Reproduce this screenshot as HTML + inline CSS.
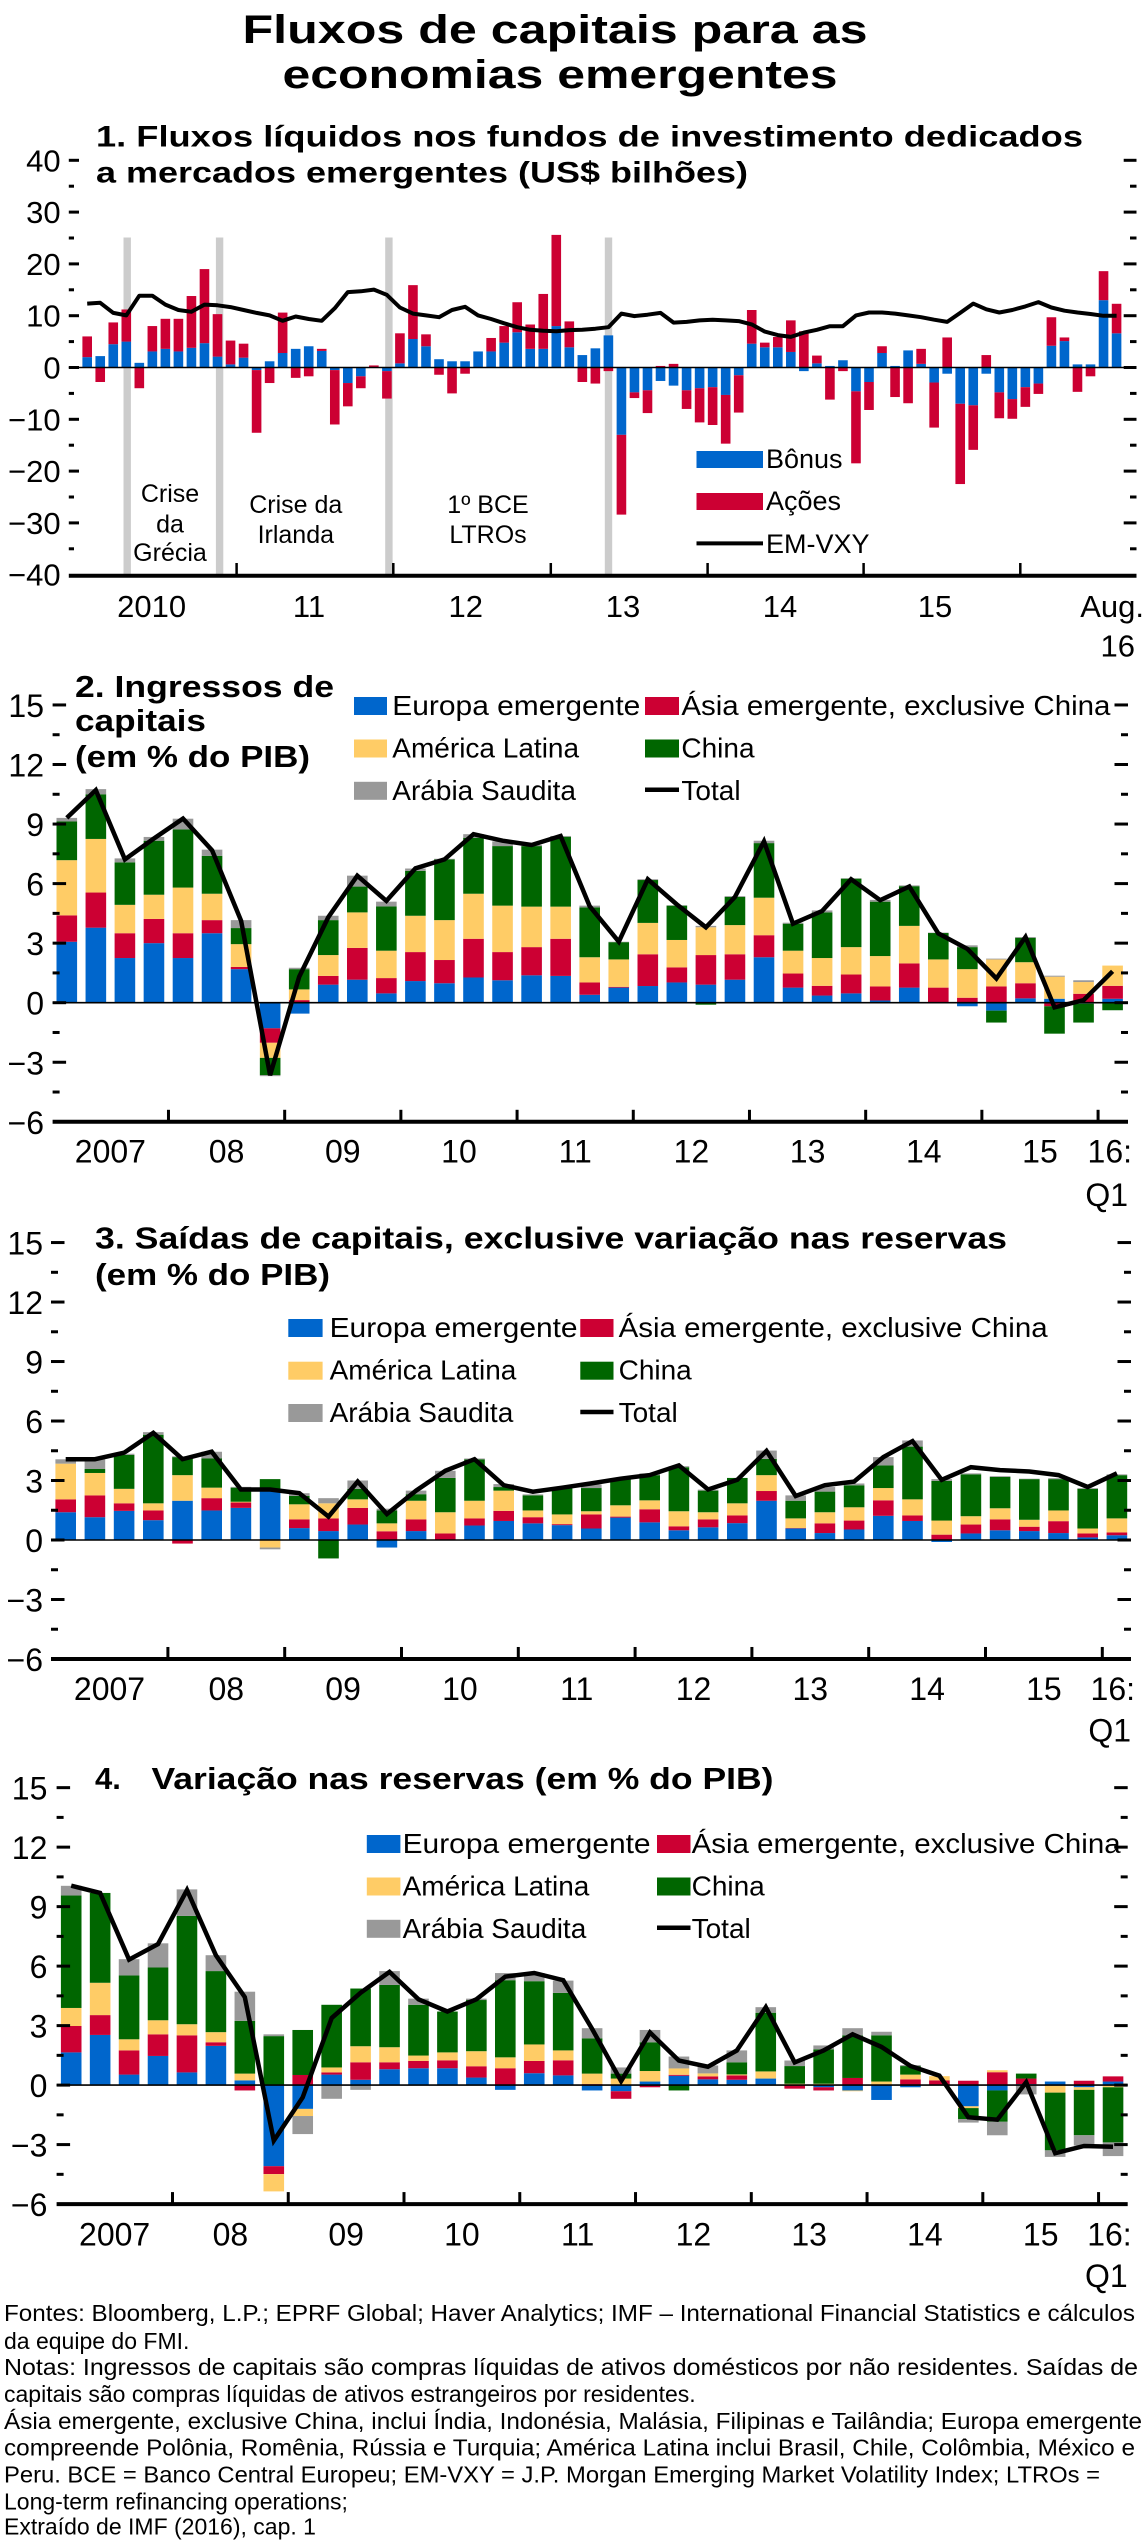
<!DOCTYPE html>
<html><head><meta charset="utf-8">
<style>
html,body{margin:0;padding:0;background:#fff;}
svg{display:block;font-family:"Liberation Sans",Arial,sans-serif;}
</style></head>
<body>
<svg id="s" width="1146" height="2544" viewBox="0 0 1146 2544" xmlns="http://www.w3.org/2000/svg">
<rect width="1146" height="2544" fill="#fff"/>
<text x="555" y="43" font-size="40" font-weight="bold" text-anchor="middle" textLength="625" lengthAdjust="spacingAndGlyphs">Fluxos de capitais para as</text>
<text x="560" y="88" font-size="40" font-weight="bold" text-anchor="middle" textLength="555" lengthAdjust="spacingAndGlyphs">economias emergentes</text>

<text x="96" y="146.7" font-size="30" font-weight="bold" textLength="987" lengthAdjust="spacingAndGlyphs">1. Fluxos líquidos nos fundos de investimento dedicados</text>
<text x="96" y="182.6" font-size="30" font-weight="bold" textLength="652" lengthAdjust="spacingAndGlyphs">a mercados emergentes (US$ bilhões)</text>

<text x="75" y="697" font-size="31" font-weight="bold" textLength="259" lengthAdjust="spacingAndGlyphs">2. Ingressos de</text>
<text x="75" y="731" font-size="31" font-weight="bold" textLength="131" lengthAdjust="spacingAndGlyphs">capitais</text>
<text x="75" y="767" font-size="31" font-weight="bold" textLength="235" lengthAdjust="spacingAndGlyphs">(em % do PIB)</text>

<text x="95" y="1248.7" font-size="31" font-weight="bold" textLength="912" lengthAdjust="spacingAndGlyphs">3. Saídas de capitais, exclusive variação nas reservas</text>
<text x="95" y="1284.8" font-size="31" font-weight="bold" textLength="235" lengthAdjust="spacingAndGlyphs">(em % do PIB)</text>

<text x="95" y="1789" font-size="31" font-weight="bold">4.</text>
<text x="151.5" y="1789" font-size="31" font-weight="bold" textLength="622" lengthAdjust="spacingAndGlyphs">Variação nas reservas (em % do PIB)</text>

<g font-size="23">
<text x="4" y="2321" textLength="1131" lengthAdjust="spacingAndGlyphs">Fontes: Bloomberg, L.P.; EPRF Global; Haver Analytics; IMF – International Financial Statistics e cálculos</text>
<text x="4" y="2349">da equipe do FMI.</text>
<text x="4" y="2375" textLength="1134" lengthAdjust="spacingAndGlyphs">Notas: Ingressos de capitais são compras líquidas de ativos domésticos por não residentes. Saídas de</text>
<text x="4" y="2402">capitais são compras líquidas de ativos estrangeiros por residentes.</text>
<text x="4" y="2429" textLength="1138" lengthAdjust="spacingAndGlyphs">Ásia emergente, exclusive China, inclui Índia, Indonésia, Malásia, Filipinas e Tailândia; Europa emergente</text>
<text x="4" y="2455.5" textLength="1131" lengthAdjust="spacingAndGlyphs">compreende Polônia, Romênia, Rússia e Turquia; América Latina inclui Brasil, Chile, Colômbia, México e</text>
<text x="4" y="2482.6" textLength="1096" lengthAdjust="spacingAndGlyphs">Peru. BCE = Banco Central Europeu; EM-VXY = J.P. Morgan Emerging Market Volatility Index; LTROs =</text>
<text x="4" y="2509.6">Long-term refinancing operations;</text>
<text x="4" y="2534.6">Extraído de IMF (2016), cap. 1</text>
</g>
<g id="g"></g>
</svg>
<script>
(function(){
var NS="http://www.w3.org/2000/svg",G=document.getElementById("g");
function el(t,a,txt){var e=document.createElementNS(NS,t);for(var k in a)e.setAttribute(k,a[k]);if(txt!=null)e.textContent=txt;G.appendChild(e);return e;}
function R(x,y,w,h,f){if(h<0){y+=h;h=-h;}if(h<0.01)return;el("rect",{x:x,y:y,width:w,height:h,fill:f});}
function L(x1,y1,x2,y2,w){el("line",{x1:x1,y1:y1,x2:x2,y2:y2,stroke:"#000","stroke-width":w});}
function T(x,y,s,sz,anc,extra){var a={x:x,y:y,"font-size":sz,"text-anchor":anc||"start"};if(extra)for(var k in extra)a[k]=extra[k];el("text",a,s);}
var C=["#0066cc","#cc0033","#ffcc66","#006600","#999999"];
var M="\u2212";

var b=[2,2.2,4.5,5,0.9,3.1,3.6,3.1,3.8,4.7,2.1,0.6,1.9,-0.5,1.2,2.8,3.6,4.1,3.2,-0.5,-3,-1.7,0,-0.7,0.8,5.5,4.1,1.6,1.2,1.2,3.1,3.1,4.8,6.8,3.6,3.6,8,3.9,2.4,3.7,6.2,-13,-4.8,-4.4,-2.6,-3.5,-4.4,-4,-3.8,-5.3,-1.5,4.6,3.9,3.9,3,-0.7,0.8,0.3,1.4,-4.6,-2.8,2.8,0.3,3.3,0.7,-2.9,-1.2,-7,-7.3,-1.2,-4.8,-6.1,-3.8,-3.1,4.2,5.1,0.6,0.6,13,6.6];
var e=[4,-2.8,4.2,6.2,-4,4.9,5.8,6.3,10,14.3,8.2,4.6,2.7,-12.1,-3,7.8,-2,-1.7,0.4,-10.5,-4.5,-2.3,0.4,-5.3,5.8,10.4,2.3,-1.4,-5,-1.2,0,2.6,3.2,5.8,4.7,10.6,17.6,5,-2.8,-3.1,-0.7,-15.4,-1.1,-4.4,0.3,0.7,-3.6,-6.6,-7.3,-9.4,-7.2,6.5,0.9,2,6.1,7,1.5,-6.2,-0.7,-13.9,-5.4,1.3,-5.7,-6.9,2.9,-8.7,5.8,-15.5,-8.6,2.4,-5,-3.8,-3.8,-2,5.5,0.7,-4.7,-1.7,5.6,5.7];
var vx=[567,565,593,600,545,545,570,585,590,570,572,577,585,593,600,615,603,610,615,580,535,533,528,543,578,595,600,605,585,576,600,610,622,633,640,643,644,641,640,637,633,595,602,598,593,620,618,614,612,614,616,625,645,655,660,648,640,630,630,600,592,592,595,600,605,612,618,593,567,583,592,585,575,563,578,587,592,596,601,601];
var z1=367.5,u1=5.18,x0=87.2,st=13.03,bw=9.6;
[127.2,219.6,388.9,608.5].forEach(function(x){R(x-3.7,237.5,7.4,338,"#cccccc");});
for(var i=0;i<80;i++){
  var x=x0+i*st-bw/2,pos=0,neg=0,vals=[b[i],e[i]];
  for(var k=0;k<2;k++){var v=vals[k];if(v>=0){R(x,z1-(pos+v)*u1,bw,v*u1,C[k]);pos+=v;}else{R(x,z1-neg*u1,bw,-v*u1,C[k]);neg+=v;}}
}
L(68.8,z1,1136,z1,1.6);
L(68.8,575.7,1136.5,575.7,4);
for(var v=-40;v<=40;v+=5){var y=z1-v*u1;var maj=(v%10==0);
  if(v>-40){L(68.8,y,maj?79:74,y,3);L(maj?1123.7:1130,y,1136.5,y,3);}
  if(maj)T(60.6,y+11,(v<0?M:"")+Math.abs(v),31,"end");}
[236.6,393.3,550.8,707.6,863.6,1020.3].forEach(function(x){L(x,563,x,575.7,2.5);});
var pts=vx.map(function(zy,i){return (x0+i*st).toFixed(1)+","+(100+zy*0.359).toFixed(1);}).join(" ");
el("polyline",{points:pts,fill:"none",stroke:"#000","stroke-width":4,"stroke-linejoin":"round"});
[["2010",151.6],["11",309],["12",465.8],["13",623],["14",780],["15",935]].forEach(function(a){T(a[1],617,a[0],31,"middle");});
T(1144,617,"Aug.",31,"end");T(1135,656.5,"16",31,"end");
T(170,502,"Crise",25,"middle");T(170,532.6,"da",25,"middle");T(170,561,"Grécia",25,"middle");
T(295.8,513,"Crise da",25,"middle");T(295.8,543,"Irlanda",25,"middle");
T(488,513,"1º BCE",25,"middle");T(488,543,"LTROs",25,"middle");
R(696.5,451,66.5,17,C[0]);R(696.5,493,66.5,17,C[1]);L(696.5,543.4,763,543.4,4);
T(766,468,"Bônus",27);T(766,510,"Ações",27);T(766,553,"EM-VXY",27);

function chart(c){
  var z=c.zero,u=c.unit;
  for(var i=0;i<c.data.length;i++){
    var x=c.bx+i*c.st-c.bw/2,pos=0,neg=0,d=c.data[i];
    for(var k=0;k<5;k++){var v=d[k];if(v>=0){R(x,z-(pos+v)*u,c.bw,v*u,C[k]);pos+=v;}else{R(x,z-neg*u,c.bw,-v*u,C[k]);neg+=v;}}
  }
  L(c.ax0,z,c.ax1,z,1.6);
  L(c.ax0,z+6*u,c.ax1,z+6*u,4);
  for(var v=-6;v<=15;v+=1.5){var y=z-v*u;var maj=(v%3==0);
    if(v>-6){L(c.ax0,y,c.ax0+(maj?13.5:7),y,3);L(c.ax1-(maj?13.5:7),y,c.ax1,y,3);}
    if(maj)T(c.lx,y+12,(v<0?M:"")+Math.abs(v),32,"end");}
  for(var k2=0;k2<9;k2++){var x=c.bx+(3.5+4*k2)*c.st;L(x,z+6*u-12,x,z+6*u,3);}
  var yrs=["2007","08","09","10","11","12","13","14","15"];
  for(var k3=0;k3<9;k3++)T(c.bx+(1.5+4*k3)*c.st,c.yb,yrs[k3],32,"middle");
  T(c.ax1+4,c.yb,"16:",32,"end");T(c.ax1,c.qb,"Q1",32,"end");
  var pts=c.line.map(function(zy,i){return (c.bx+i*c.st).toFixed(1)+","+(z-(c.lz-zy)/55*u).toFixed(1);}).join(" ");
  el("polyline",{points:pts,fill:"none",stroke:"#000","stroke-width":4.5,"stroke-linejoin":"miter"});
  var g=c.leg;
  var names=[["Europa emergente",0],["América Latina",2],["Arábia Saudita",4]];
  for(var r=0;r<3;r++){R(g.lx0,g.rows[r],g.lx1-g.lx0,18,C[names[r][1]]);
    var ex=r==0?{textLength:248,lengthAdjust:"spacingAndGlyphs"}:null;
    T(g.lt,g.rows[r]+18,names[r][0],28,"start",ex);}
  R(g.rx0,g.rows[0],g.rx1-g.rx0,18,C[1]);T(g.rt,g.rows[0]+18,"Ásia emergente, exclusive China",28,"start",{textLength:429,lengthAdjust:"spacingAndGlyphs"});
  R(g.rx0,g.rows[1],g.rx1-g.rx0,18,C[3]);T(g.rt,g.rows[1]+18,"China",28);
  L(g.rx0,g.rows[2]+8,g.rx1,g.rows[2]+8,4.5);T(g.rt,g.rows[2]+18,"Total",28);
}

chart({zero:1002.7,unit:19.85,bx:66.8,st:29.05,bw:20.6,ax0:52.6,ax1:1128,lx:44,yb:1162.6,qb:1206,lz:977,
 leg:{lx0:354,lx1:387,lt:392.3,rx0:645,rx1:679,rt:681.4,rows:[697,739.5,781.8]},
 data:[[3.07,1.33,2.78,1.95,0.18],[3.78,1.77,2.7,2.25,0.26],[2.25,1.25,1.43,2.14,0.2],[3.0,1.22,1.22,2.72,0.19],[2.25,1.25,2.3,2.93,0.54],[3.5,0.66,1.33,1.91,0.31],[1.69,0.11,1.15,0.81,0.4],[-1.29,-0.73,-0.76,-0.87,-0.05],[-0.55,0.13,0.54,1.02,0.07],[0.91,0.44,1.05,1.76,0.22],[1.16,1.6,1.79,1.3,0.55],[0.47,0.77,1.38,2.23,0.24],[1.09,1.46,1.83,2.26,0.12],[0.98,1.17,2.01,3.06,0.03],[1.27,1.95,2.27,2.82,0.18],[1.13,1.42,2.34,3.0,0.24],[1.38,1.42,2.04,3.05,0.06],[1.35,1.87,1.62,3.52,0.04],[0.4,0.62,1.27,2.51,0.09],[0.76,0.04,1.38,0.87,0.02],[0.84,1.6,1.58,2.16,0.04],[1.02,0.76,1.38,1.73,0.02],[0.91,1.49,1.4,-0.1,0.07],[1.16,1.28,1.47,1.42,0.04],[2.29,1.11,1.89,2.75,0.12],[0.76,0.71,1.15,1.36,0.05],[0.36,0.49,1.4,2.3,0.1],[0.47,0.95,1.38,3.45,0.02],[0.11,0.71,1.53,2.74,0.09],[0.76,1.22,1.89,2.0,0.04],[0,0.76,1.42,1.33,0.02],[-0.18,0.25,1.44,1.11,0.09],[-0.4,0.82,1.36,-0.6,0.04],[0.22,0.76,1.06,1.23,0.04],[0.2,-0.18,1.11,-1.38,0.05],[-0.05,0.45,0.59,-0.95,0.09],[0.2,0.65,1.02,-0.38,0]],
 line:[465,388,580,522,467,555,750,1178,905,740,625,695,605,580,510,528,540,515,710,808,635,705,768,684,530,758,723,635,693,655,785,828,910,795,990,970,890]});

chart({zero:1540,unit:19.83,bx:65.7,st:29.2,bw:20.6,ax0:51,ax1:1131,lx:43,yb:1700,qb:1741.5,lz:942,
 leg:{lx0:288.3,lx1:322.6,lt:329.6,rx0:580.3,rx1:613.5,rt:618.6,rows:[1319,1361.7,1404]},
 data:[[1.4,0.65,1.8,0,0.22],[1.15,1.1,1.13,0.2,0.49],[1.47,0.38,0.73,1.71,0.06],[1.0,0.49,0.36,3.46,0.13],[1.98,-0.18,1.29,0.91,0.04],[1.49,0.62,0.53,1.47,0.34],[1.62,0.27,0.04,0.71,0.04],[2.45,0,-0.38,0.62,-0.09],[0.6,0.44,0.76,0.42,0.14],[0.45,0.64,0.76,-0.93,0.26],[0.78,0.84,0.43,0.53,0.42],[-0.38,0.44,0.4,0.65,0.09],[0.45,0.59,0.94,0.33,0.18],[0,0.33,1.07,1.73,0.36],[0.73,0.36,0.89,2.09,0.04],[0.96,0.51,1.02,0.18,0.15],[0.84,0.31,0.34,0.76,0.05],[0.75,0.05,0.49,1.31,0.05],[0.58,0.71,0.16,1.17,0.18],[1.13,0.05,0.57,1.32,0.05],[0.89,0.66,0.45,1.27,0.09],[0.49,0.2,0.76,2.22,0.05],[0.64,0.4,0.36,1.09,0.05],[0.85,0.39,0.61,1.28,0],[1.98,0.49,0.8,0.82,0.42],[0.58,0.02,0.49,0.89,0.27],[0.35,0.49,0.56,1.04,0.23],[0.53,0.45,0.67,1.11,0.09],[1.22,0.78,0.62,1.14,0.42],[0.96,0.28,0.81,2.66,0.31],[-0.1,0.27,0.71,2.0,0.09],[0.33,0.45,0.42,2.11,0.05],[0.49,0.55,0.56,1.58,0.04],[0.45,0.22,0.35,2.05,0.02],[0.35,0.6,0.54,1.58,0.05],[0.13,0.2,0.25,2.0,0.04],[0.24,0.14,0.71,2.18,0.04]],
 line:[718,718,700,645,718,697,802,802,812,877,780,870,805,750,718,790,808,797,785,772,762,735,802,775,695,820,790,780,712,668,775,740,748,752,762,795,757]});

chart({zero:2085.1,unit:19.83,bx:71.2,st:28.94,bw:20.6,ax0:56.6,ax1:1127.7,lx:47.4,yb:2245.4,qb:2287,lz:956,
 leg:{lx0:366.8,lx1:400.4,lt:402.6,rx0:657,rx1:690.5,rt:691.6,rows:[1835,1877.5,1919.8]},
 data:[[1.65,1.33,0.91,5.67,0.49],[2.53,1.0,1.63,4.53,0],[0.53,1.22,0.56,3.22,0.82],[1.47,1.09,0.71,2.66,1.22],[0.64,1.87,0.56,5.46,1.34],[1.98,0.18,0.51,3.08,0.8],[0.24,-0.27,0.34,2.66,1.47],[-4.09,-0.4,-0.87,2.47,0.09],[-1.2,0.51,-0.36,2.27,-0.91],[0.53,0.11,0.25,3.16,-0.69],[0.27,0.88,0.81,2.91,-0.24],[0.8,0.35,0.76,3.14,0.7],[0.85,0.37,0.27,2.56,0.31],[0.85,0.4,0.4,2.06,0],[0.38,0.57,0.76,2.58,0.07],[-0.24,0.85,0.55,3.89,0.36],[0.6,0.62,0.83,3.19,0.41],[0.49,0.76,0.5,2.9,0.62],[-0.27,0.05,0.53,1.78,0.51],[-0.31,-0.38,0.33,0.25,0.31],[0.18,-0.11,0.53,1.45,0.62],[0.47,0.05,0.32,-0.27,0.6],[0.29,0.15,0.15,0,0.4],[0.27,0.22,0.05,0.61,0.6],[0.33,0,0.36,2.96,0.28],[0,-0.18,0.07,0.89,0.28],[-0.11,-0.16,0.07,1.73,0.2],[-0.27,0.36,-0.04,2.15,0.36],[-0.75,0,0.18,2.33,0.18],[-0.11,0.29,0.24,0.43,0.05],[0,0.24,0.21,0,0],[-1.07,0.22,-0.09,-0.55,-0.18],[-0.27,0.65,0.1,-1.58,-0.68],[0.05,0.28,0,0.25,-0.47],[0.18,0,-0.38,-2.91,-0.33],[-0.11,0.22,-0.13,-2.29,-0.52],[0.18,0.26,-0.11,-2.78,-0.69]],
 line:[403,423,608,565,415,596,712,1110,990,770,700,642,718,752,718,655,645,665,800,945,810,888,905,860,740,893,860,815,850,903,930,1045,1052,948,1145,1125,1127]});
})();
</script>
</body></html>
